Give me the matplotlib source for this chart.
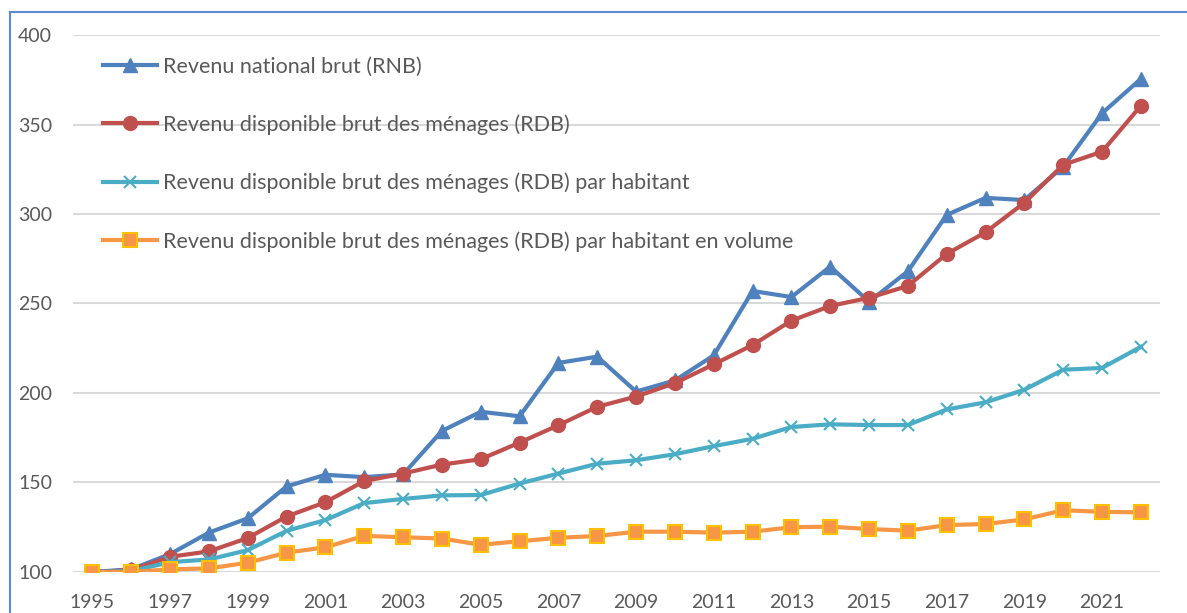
import numpy as np
import matplotlib.pyplot as plt
from matplotlib.patches import Rectangle

years = list(range(1995, 2023))

rnb = [100, 101.5, 110, 122, 130, 147.8, 154.3, 153, 154.5, 178.8, 189.5, 187, 216.8, 220.3,
       200.8, 207, 221, 257, 253.6, 270.6, 251, 268, 299.5, 309, 307.8, 326.5, 356.3, 375.5]
rdb = [100, 101, 108.5, 111.5, 119, 131, 139, 150.8, 155, 160, 163, 172.3, 182, 192.3,
       198, 205.5, 216, 226.8, 240.4, 248.6, 253.2, 259.8, 277.7, 289.8, 306.3, 327.5, 334.8, 360.5]
rdb_hab = [100, 100.5, 105.5, 107, 112.2, 123, 129, 138.5, 140.8, 142.8, 143, 149.4, 155, 160.5,
           162.4, 165.8, 170.3, 174.4, 181, 182.5, 182.1, 182.1, 190.8, 194.8, 201.8, 213, 214, 225.8]
rdb_vol = [100, 100, 101.5, 102, 105.2, 110.8, 113.8, 120.2, 119.4, 118.7, 115.2, 117.2, 119.1, 120.1,
           122.5, 122.5, 122, 122.5, 125, 125.3, 124, 123.1, 126.2, 126.8, 129.4, 134.5, 133.6, 133.3]

labels = ["Revenu national brut (RNB)",
          "Revenu disponible brut des ménages (RDB)",
          "Revenu disponible brut des ménages (RDB) par habitant",
          "Revenu disponible brut des ménages (RDB) par habitant en volume"]

plt.rcParams['font.family'] = ['Lato', 'DejaVu Sans']
txt = "#595959"

fig = plt.figure(figsize=(11.87, 6.13), dpi=100)
ax = fig.add_axes([0.0615, 0.0669, 0.916, 0.876])

lw = 3
ax.plot(years, rnb, color="#4F81BD", lw=lw, marker="^", ms=10, label=labels[0])
ax.plot(years, rdb, color="#C0504D", lw=lw, marker="o", ms=10, label=labels[1])
ax.plot(years, rdb_hab, color="#4BACC6", lw=lw, marker="x", ms=9, mew=1.5, label=labels[2])
ax.plot(years, rdb_vol, color="#F79646", lw=lw, marker="s", ms=10, mfc="#F79646",
        mec="#FFC000", mew=1.5, label=labels[3])

ax.set_xlim(1994.5, 2022.5)
ax.set_ylim(100, 400)
ax.set_yticks(np.arange(100, 401, 50))
ax.set_xticks(years[::2])
ax.grid(axis="y", color="#D9D9D9", lw=1.5)
ax.set_axisbelow(True)
for s in ax.spines.values():
    s.set_visible(False)
ax.tick_params(length=0, labelsize=14, colors=txt)
ax.tick_params(axis="x", pad=16)
ax.tick_params(axis="y", pad=15)

leg = ax.legend(loc="upper left", bbox_to_anchor=(0.02, 0.976), frameon=False,
                fontsize=15.5, labelspacing=1.76, handlelength=2.5, handletextpad=0.25,
                borderaxespad=0)
for t in leg.get_texts():
    t.set_color(txt)

fig.patches.append(Rectangle((10, -20), 1300, 613 - 12 + 20, transform=None,
                             fill=False, edgecolor="#5B8BD0", lw=1.5))

fig.savefig("out.png", dpi=100)
